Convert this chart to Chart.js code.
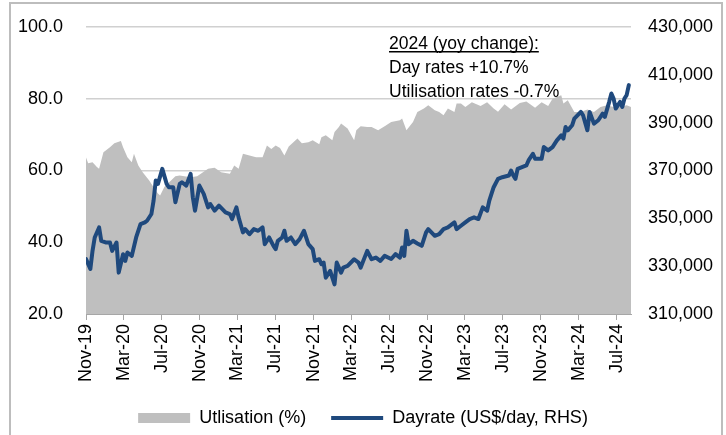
<!DOCTYPE html>
<html>
<head>
<meta charset="utf-8">
<script src="https://cdn.jsdelivr.net/npm/chart.js@4.4.1/dist/chart.umd.min.js"></script>
<style>
  html, body { margin: 0; padding: 0; background: #fff; }
  #wrap { position: relative; width: 726px; height: 435px; overflow: hidden; }
  #frame { position: absolute; left: 9px; top: 2px; width: 714px; height: 450px; border: 2px solid #bdbdbd; box-sizing: border-box; pointer-events: none; }
  canvas { position: absolute; left: 0; top: 0; }
</style>
</head>
<body>
<div id="wrap">
  <canvas id="chart" width="726" height="435"></canvas>
  <div id="frame"></div>
</div>
<script>
// weekly data, week 0 = 1 Nov 2019
const tickLabels = ['Nov-19', 'Mar-20', 'Jul-20', 'Nov-20', 'Mar-21', 'Jul-21', 'Nov-21', 'Mar-22',
  'Jul-22', 'Nov-22', 'Mar-23', 'Jul-23', 'Nov-23', 'Mar-24', 'Jul-24'];

// utilisation (%)
const utilWeeks = [0,1,3,5,6,8,11,13,16,17,19,21,22,24,26,29,31,33,34,36,39,41,43,48,51,56,59,62,66,68,
  70,72,75,78,81,83,85,87,89,91,93,97,99,102,104,107,108,110,113,114,116,117,120,123,124,126,129,131,134,137,
  140,144,145,147,150,152,155,157,160,162,164,166,169,170,172,174,177,181,184,187,189,192,195,199,202,206,209,212,214,218,
  219,221,224,227,230,233,236,239,242,245,248,250];
const utilValues = [63.6,62,62.3,61,60.5,65.1,66.5,67.6,68.2,66.5,63.7,62.3,64.7,61.4,59.5,57.2,55.3,53.6,53,55.5,
  57.2,58.4,58.6,58.1,58.4,60.5,60.8,59.5,59.1,61.4,60.5,64.7,64.2,63.7,63.7,67,66,67,66.3,64.2,
  66.7,68.9,67.6,67.9,68.4,67.3,69.3,69.8,68.4,70.7,72.1,73.1,71.7,68.4,71.2,72.3,72.1,72.1,71.2,72.3,
  73.5,74,74.5,71.2,73.5,76.3,77.3,78.2,76.8,76.3,75.4,77.3,76.3,78.7,78.7,77.7,79,78,79,77.3,
  76.4,78.5,77,78.8,79.2,77.5,79,78,80,81,78.7,79.6,76.3,76.3,77,76.3,77.7,78.2,77.7,77.7,78.2,77.7];

// dayrate, US$ '000/day
const rateWeeks = [0,2,3,4,6,7,9,11,12,14,15,17,18,19,21,23,25,27,28,30,31,32,33,35,37,38,40,41,43,44,
  46,48,49,50,52,54,56,57,59,61,64,66,67,69,70,72,73,75,77,79,81,82,84,86,87,88,90,91,92,94,
  96,98,100,102,104,105,107,108,109,110,112,114,115,117,118,120,123,125,126,129,131,133,135,137,140,142,144,145,146,147,
  148,150,152,154,156,157,160,162,164,166,169,170,172,174,176,178,180,182,184,185,187,189,191,194,195,196,197,198,200,202,
  203,205,206,209,210,212,214,216,218,219,220,221,223,224,227,228,230,231,233,235,237,238,240,241,242,243,245,246,247,248,249];
const rateValues = [333,328.8,336.4,342,346.2,340.6,339.9,339.9,336.4,339.9,327.3,335,332.2,335.7,334.3,342,347.6,348.3,349,351.8,
  357.4,365.8,364.4,370.7,364.4,363,363,356.7,364.4,365.1,363.7,368.6,358.8,353.2,363.7,360.2,354.6,356,353.2,355.3,
  352.5,351.8,349.7,354.6,350.4,344.1,345.5,343.4,345.5,344.8,346.2,339.2,342,338.5,337.1,340.6,342,344.8,340.6,342,
  339.2,341.3,344.8,339.2,337.1,332.2,332.9,330.8,331.5,325.2,328,322.4,331.5,327.3,329.4,330.1,332.9,331.5,329.4,336.4,
  332.9,333.6,332.2,334.3,333,335,333.6,337.8,334.3,344.8,339.2,340.6,339.5,338.5,344.1,345.5,342.7,343.4,345.5,346.2,
  348.3,345.5,346.9,348.3,349.7,350.4,349.7,354.6,353.2,357.4,363,366.5,367.2,367.9,370,367.9,366.5,370.7,371.4,372.1,
  374.2,377,374.9,374.9,379.8,378.4,379.8,382.6,384.7,383.3,388.2,386.8,388.9,391.7,394.5,393.1,386.8,394.5,389.6,391,
  393.8,392.4,398.7,402.2,400.1,395.9,398.7,396.6,400.1,401.5,405.7];

const noteLines = ['2024 (yoy change):', 'Day rates +10.7%', 'Utilisation rates -0.7%'];

const FONT = "'Liberation Sans', Arial, sans-serif";

// week position of each 4-monthly tick
const start = new Date(2019, 10, 1);
const tickWeeks = tickLabels.map((l, i) => (new Date(2019, 10 + 4 * i, 1) - start) / (7 * 864e5));

const notePlugin = {
  id: 'note',
  afterDraw(chart) {
    const ctx = chart.ctx;
    ctx.save();
    ctx.font = '17.5px ' + FONT;
    ctx.fillStyle = '#000';
    ctx.textBaseline = 'alphabetic';
    noteLines.forEach((t, i) => ctx.fillText(t, 389, 49 + i * 24));
    const w = ctx.measureText(noteLines[0]).width;
    ctx.fillRect(389, 51, w, 1.5);
    ctx.restore();
  }
};

// fixed box sizes so the plot area lands where the original has it
const fixY = width => s => { s.width = width; s.paddingTop = 0; s.paddingBottom = 0; };

Chart.defaults.font.family = FONT;
Chart.defaults.font.size = 18;
Chart.defaults.color = '#000';

new Chart(document.getElementById('chart'), {
  type: 'line',
  data: {
    datasets: [{
      label: 'Utlisation (%)',
      data: utilWeeks.map((w, i) => ({ x: w, y: utilValues[i] })),
      yAxisID: 'y',
      order: 2,
      fill: 'start',
      backgroundColor: '#bfbfbf',
      borderWidth: 0,
      pointRadius: 0,
      pointStyle: 'rect',
      tension: 0
    }, {
      label: 'Dayrate (US$/day, RHS)',
      data: rateWeeks.map((w, i) => ({ x: w, y: rateValues[i] })),
      yAxisID: 'y1',
      order: 1,
      borderColor: '#1f497d',
      backgroundColor: '#1f497d',
      borderWidth: 4,
      borderJoinStyle: 'round',
      borderCapStyle: 'round',
      pointRadius: 0,
      pointStyle: 'line',
      tension: 0
    }]
  },
  options: {
    responsive: false,
    animation: false,
    layout: { padding: { top: 27, left: 0, right: 0, bottom: 0 } },
    plugins: {
      tooltip: { enabled: false },
      legend: {
        position: 'bottom',
        maxHeight: 51,
        labels: {
          usePointStyle: true,
          pointStyleWidth: 52,
          boxHeight: 10,
          padding: 25,
          sort: (a, b) => a.datasetIndex - b.datasetIndex
        }
      }
    },
    scales: {
      x: {
        type: 'linear',
        min: 0,
        max: 250,
        afterBuildTicks: s => { s.ticks = tickWeeks.map(v => ({ value: v })); },
        afterFit: s => { s.height = 70; },
        ticks: {
          autoSkip: false,
          maxRotation: 90,
          minRotation: 90,
          padding: 4,
          callback: (v, i) => tickLabels[i]
        },
        grid: { drawOnChartArea: false, tickLength: 6, color: '#a6a6a6' },
        border: { color: '#a6a6a6', width: 1 }
      },
      y: {
        position: 'left',
        min: 20,
        max: 100,
        afterFit: fixY(86),
        ticks: { stepSize: 20, padding: 23, callback: v => v.toFixed(1) },
        grid: { color: '#d0d0d0', lineWidth: 1.5, drawTicks: false },
        border: { display: false }
      },
      y1: {
        position: 'right',
        min: 310,
        max: 430,
        afterFit: fixY(95),
        ticks: { stepSize: 20, padding: 17, callback: v => (v * 1000).toLocaleString('en-US') },
        grid: { drawOnChartArea: false, drawTicks: false },
        border: { display: false }
      }
    }
  },
  plugins: [notePlugin]
});
</script>
</body>
</html>
